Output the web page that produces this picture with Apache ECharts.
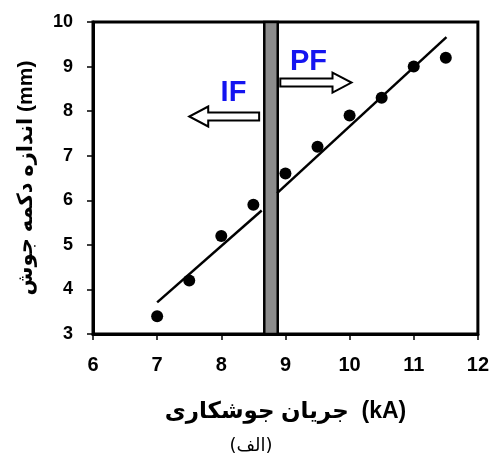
<!DOCTYPE html>
<html>
<head>
<meta charset="utf-8">
<script src="https://cdn.jsdelivr.net/npm/echarts@6/dist/echarts.min.js"></script>
<style>
html,body{margin:0;padding:0;background:#fff;}
#chart{width:492px;height:458px;}
</style>
</head>
<body>
<div id="chart"></div>
<script>
// ---- data ----
const currentKA = [7.0, 7.5, 8.0, 8.5, 9.0, 9.5, 10.0, 10.5, 11.0, 11.5];
const nuggetMM  = [3.4, 4.2, 5.2, 5.9, 6.6, 7.2, 7.9, 8.3, 9.0, 9.2];
const fitIF = [[7.0, 3.71], [8.63, 5.77]];
const fitPF = [[8.87, 6.16], [11.51, 9.66]];
const transitionBand = [8.67, 8.88];
const xTicks = [6, 7, 8, 9, 10, 11, 12];
const yTicks = [3, 4, 5, 6, 7, 8, 9, 10];
const xName = 'جریان جوشکاری\u00A0 (kA)';
const yName = 'اندازه دکمه جوش (mm)';
const caption = '(الف)';
const labelIF = 'IF';
const labelPF = 'PF';

// annotation anchors (data coords)
const anchorIF = {text: [8.19, 8.41], arrowTail: [8.59, 7.88], arrowTip: [7.5, 7.88]};
const anchorPF = {text: [9.36, 9.11], arrowTail: [8.92, 8.64], arrowTip: [10.03, 8.64]};

const FONT = '"Liberation Sans", Arial, "DejaVu Sans", sans-serif';
const chart = echarts.init(document.getElementById('chart'));

const points = currentKA.map((x, i) => [x, nuggetMM[i]]);

chart.setOption({
  animation: false,
  backgroundColor: '#fff',
  grid: {left: 93, right: 12, top: 22, bottom: 124, show: true,
         borderColor: '#000', borderWidth: 3, backgroundColor: 'transparent'},
  xAxis: {
    type: 'value', min: xTicks[0], max: xTicks[xTicks.length - 1], interval: 1,
    name: xName, nameLocation: 'middle', nameGap: 66,
    nameTextStyle: {fontFamily: FONT, fontWeight: 'bold', fontSize: 23, color: '#000'},
    axisLine: {show: true, lineStyle: {color: '#000', width: 3}},
    axisTick: {show: true, inside: false, length: 6, lineStyle: {color: '#000', width: 1.5}},
    axisLabel: {margin: 21, fontFamily: FONT, fontWeight: 'bold', fontSize: 20, color: '#000'},
    splitLine: {show: false}
  },
  yAxis: {
    type: 'value', min: yTicks[0], max: yTicks[yTicks.length - 1], interval: 1,
    name: yName, nameLocation: 'middle', nameGap: 56, nameRotate: 90,
    nameTextStyle: {fontFamily: FONT, fontWeight: 'bold', fontSize: 21, color: '#000'},
    axisLine: {show: true, lineStyle: {color: '#000', width: 3}},
    axisTick: {show: true, inside: false, length: 6, lineStyle: {color: '#000', width: 1.5}},
    axisLabel: {margin: 20, fontFamily: FONT, fontWeight: 'bold', fontSize: 18, color: '#000'},
    splitLine: {show: false}
  },
  series: [
    {
      type: 'line', data: fitIF, symbol: 'none', silent: true,
      lineStyle: {color: '#000', width: 2.5}, z: 3
    },
    {
      type: 'line', data: fitPF, symbol: 'none', silent: true,
      lineStyle: {color: '#000', width: 2.5}, z: 3
    },
    {
      type: 'scatter', data: points, symbol: 'circle', symbolSize: 12,
      itemStyle: {color: '#000', opacity: 1}, z: 4,
      markArea: {
        silent: true,
        itemStyle: {color: '#8c8c8c', borderColor: '#000', borderWidth: 2.5, opacity: 1},
        data: [[{xAxis: transitionBand[0]}, {xAxis: transitionBand[1]}]]
      }
    }
  ]
});

function arrowPoly(tail, tip) {
  const dir = tip[0] > tail[0] ? 1 : -1;
  const y = tip[1];
  const sh = 4, hh = 10, hl = 19;
  const neck = tip[0] - dir * hl;
  return [
    [tail[0], y - sh], [neck, y - sh], [neck, y - hh], [tip[0], y],
    [neck, y + hh], [neck, y + sh], [tail[0], y + sh]
  ];
}

function px(p) { return chart.convertToPixel({gridIndex: 0}, p); }

const graphics = [];
[[anchorIF, labelIF], [anchorPF, labelPF]].forEach(([a, lbl]) => {
  const t = px(a.text);
  graphics.push({
    type: 'text', x: t[0], y: t[1], z: 10,
    style: {text: lbl, fill: '#1414f0', font: 'bold 29px ' + FONT,
            textAlign: 'center', textVerticalAlign: 'middle'}
  });
  graphics.push({
    type: 'polygon', z: 10,
    shape: {points: arrowPoly(px(a.arrowTail), px(a.arrowTip))},
    style: {fill: '#fff', stroke: '#000', lineWidth: 2}
  });
});
graphics.push({
  type: 'text', x: 251, y: 446, z: 10,
  style: {text: caption, fill: '#000', font: '18px "DejaVu Sans", sans-serif',
          textAlign: 'center', textVerticalAlign: 'middle'}
});
chart.setOption({graphic: graphics});
</script>
</body>
</html>
